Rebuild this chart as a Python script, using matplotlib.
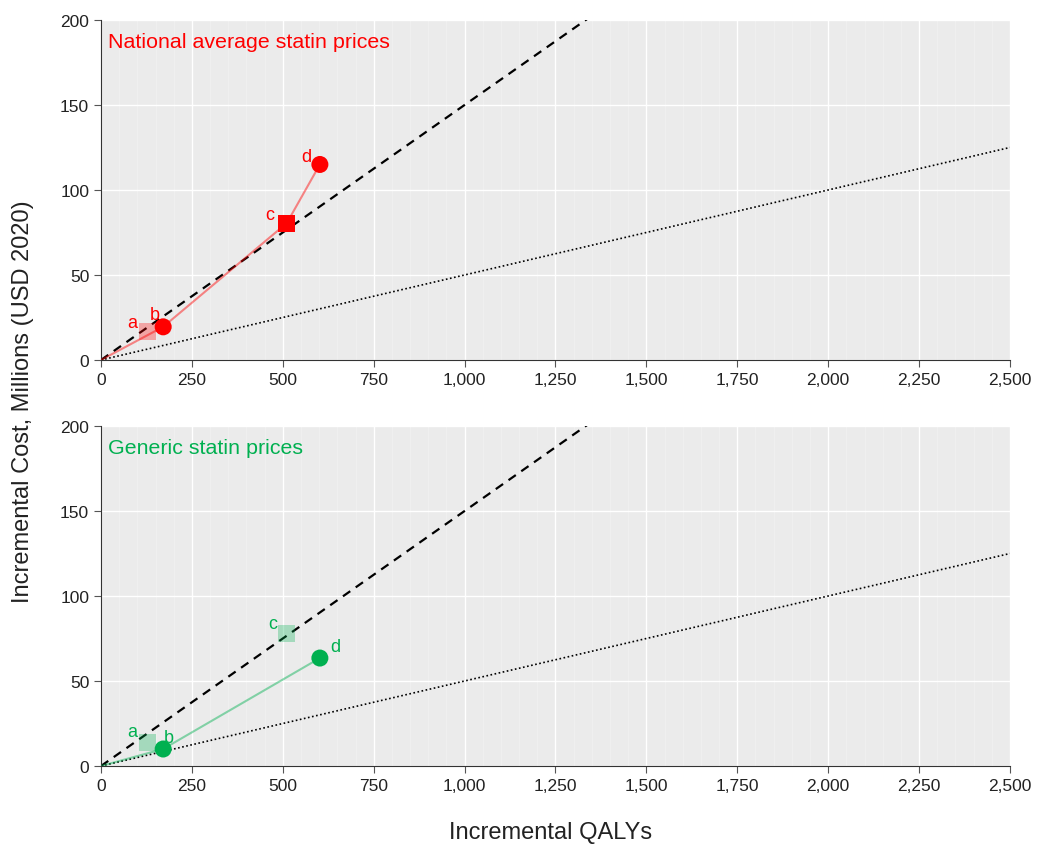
import matplotlib.pyplot as plt
import numpy as np
from matplotlib.ticker import FuncFormatter, MultipleLocator

plt.rcParams['font.family'] = ['Liberation Sans', 'DejaVu Sans']

# strategies a-d: incremental QALYs and incremental cost (millions USD 2020)
labels = ['a', 'b', 'c', 'd']
qalys = [129, 171, 511, 602]
cost_national = [17, 19.5, 80.5, 115]
cost_generic = [14, 10, 78, 63.5]
markers = ['s', 'o', 's', 'o']

# efficient frontier (index into strategies), dominated ones are faded
frontier_national = [1, 2, 3]
frontier_generic = [1, 3]

# willingness-to-pay thresholds, USD per QALY
wtp_high = 150000
wtp_low = 50000

# label offsets in points (layout only)
offs_national = [(-11, 6), (-6, 9), (-12, 6), (-10, 6)]
offs_generic = [(-11, 8), (4, 8), (-10, 7), (11, 8)]

panels = [
    ('National average statin prices', '#FF0000', cost_national, frontier_national, offs_national),
    ('Generic statin prices', '#00B050', cost_generic, frontier_generic, offs_generic),
]

fig = plt.figure(figsize=(10.38, 8.45), dpi=100)
ax_top = fig.add_axes([0.0973, 0.5728, 0.8757, 0.4024])
ax_bot = fig.add_axes([0.0973, 0.0923, 0.8757, 0.4024])

x_end = np.array([0, 2500])

for ax, (title, col, cost, front, offs) in zip([ax_top, ax_bot], panels):
    ax.set_facecolor('#EBEBEB')
    ax.set_xlim(0, 2500)
    ax.set_ylim(0, 200)
    ax.xaxis.set_major_locator(MultipleLocator(250))
    ax.xaxis.set_minor_locator(MultipleLocator(50))
    ax.yaxis.set_major_locator(MultipleLocator(50))
    ax.xaxis.set_major_formatter(FuncFormatter(lambda v, p: f'{int(v):,}'))
    ax.grid(which='major', color='white', lw=1.0)
    ax.grid(which='minor', axis='x', color='#F0F0F0', lw=0.6)
    ax.tick_params(which='minor', length=0)
    ax.tick_params(which='major', direction='out', length=5, color='#555555',
                   labelsize=12.5, labelcolor='#222222')
    ax.set_axisbelow(True)
    for s in ['top', 'right']:
        ax.spines[s].set_visible(False)
    for s in ['left', 'bottom']:
        ax.spines[s].set_color('#333333')

    # threshold lines
    ax.plot(x_end, x_end * wtp_high / 1e6, ls=(0, (4, 3)), color='black', lw=1.6, zorder=2)
    ax.plot(x_end, x_end * wtp_low / 1e6, ls=(0, (1, 1.5)), color='black', lw=1.2, zorder=2)

    # frontier line from origin
    fx = [0] + [qalys[i] for i in front]
    fy = [0] + [cost[i] for i in front]
    ax.plot(fx, fy, color=col, alpha=0.45, lw=1.5, zorder=3)

    for i, lab in enumerate(labels):
        a = 1.0 if i in front else 0.3
        ax.scatter(qalys[i], cost[i], marker=markers[i], s=150, color=col,
                   alpha=a, edgecolors='none', zorder=4)
        ax.annotate(lab, (qalys[i], cost[i]), xytext=offs[i], textcoords='offset points',
                    ha='center', va='center', color=col, fontsize=13, zorder=5)

    ax.text(0.008, 0.965, title, transform=ax.transAxes, color=col,
            fontsize=15.4, ha='left', va='top')

fig.text(0.022, 0.525, 'Incremental Cost, Millions (USD 2020)', rotation=90,
         ha='center', va='center', fontsize=17, color='#222222')
fig.text(0.53, 0.014, 'Incremental QALYs', ha='center', va='center',
         fontsize=17, color='#222222')

fig.savefig('out.png', dpi=100)
